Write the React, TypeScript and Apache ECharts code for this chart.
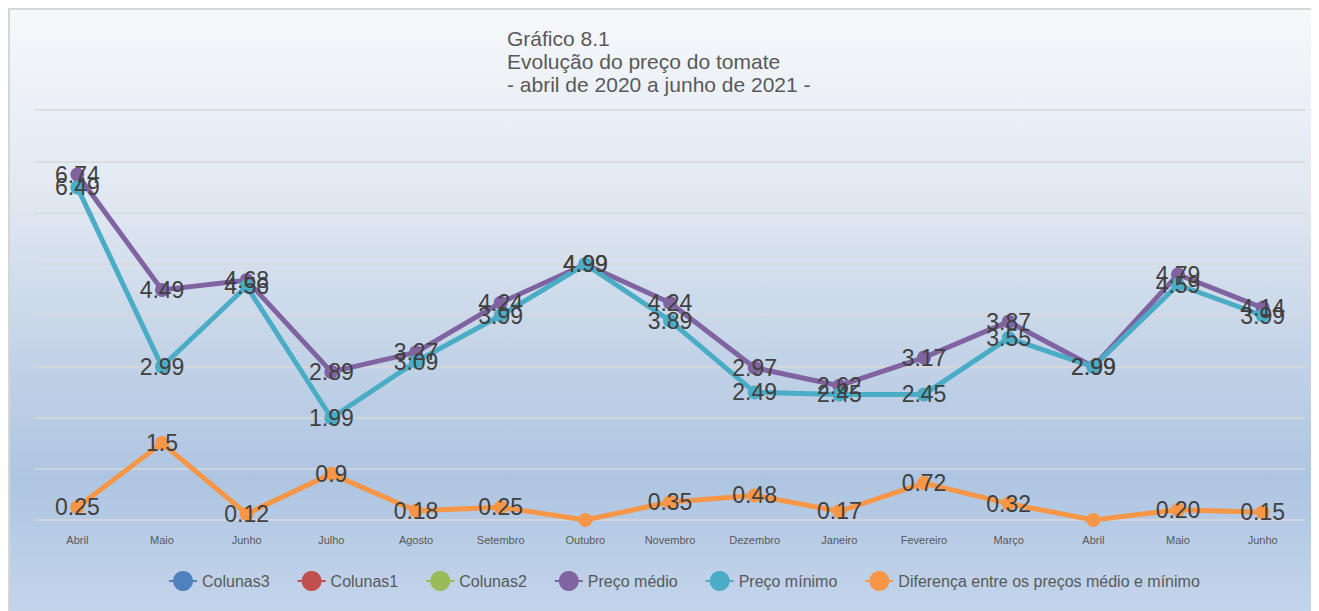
import React, { useEffect, useRef } from "react";
import * as echarts from "echarts";

const months = ["Abril", "Maio", "Junho", "Julho", "Agosto", "Setembro", "Outubro", "Novembro", "Dezembro", "Janeiro", "Fevereiro", "Março", "Abril", "Maio", "Junho"];
const precoMedio = [6.74, 4.49, 4.68, 2.89, 3.27, 4.24, 4.99, 4.24, 2.97, 2.62, 3.17, 3.87, 2.99, 4.79, 4.14];
const precoMinimo = [6.49, 2.99, 4.56, 1.99, 3.09, 3.99, 4.99, 3.89, 2.49, 2.45, 2.45, 3.55, 2.99, 4.59, 3.99];
const diferenca = [0.25, 1.5, 0.12, 0.9, 0.18, 0.25, 0, 0.35, 0.48, 0.17, 0.72, 0.32, 0, 0.2, 0.15];
const diferencaLabels = ["0.25", "1.5", "0.12", "0.9", "0.18", "0.25", "", "0.35", "0.48", "0.17", "0.72", "0.32", "", "0.20", "0.15"];
const yTicks = { min: 0, max: 8, interval: 1 };
const titleLines = ["Gráfico 8.1", "Evolução do preço do tomate", "- abril de 2020 a junho de 2021 -"];

const FONT = "'Liberation Sans', Arial, sans-serif";

export default function App() {
  const ref = useRef<HTMLDivElement>(null);
  useEffect(() => {
    document.documentElement.style.overflow = "hidden";
    if (!ref.current) return;
    const chart = echarts.init(ref.current, null, { renderer: "svg" });
    const labelStyle = {
      show: true,
      position: "inside" as const,
      fontSize: 23,
      color: "#404040",
      fontFamily: FONT,
    };
    const lineSeries = (name: string, color: string, data: any[], formatter?: any) => ({
      name,
      type: "line",
      data,
      symbol: "circle",
      symbolSize: 14,
      color,
      lineStyle: { width: 5, color },
      itemStyle: { color },
      label: { ...labelStyle, formatter: formatter || ((p: any) => Number(p.value).toFixed(2)) },
      z: 2,
    });
    chart.setOption({
      animation: false,
      backgroundColor: "transparent",
      title: {
        text: titleLines.join("\n"),
        left: 492,
        top: 12,
        textStyle: { fontSize: 21, fontWeight: "normal", color: "#595959", lineHeight: 23, fontFamily: FONT },
      },
      legend: {
        left: 153,
        top: 556,
        itemWidth: 28,
        itemHeight: 25,
        itemGap: 27,
        textStyle: { fontSize: 16, color: "#595959", fontFamily: FONT },
        data: ["Colunas3", "Colunas1", "Colunas2", "Preço médio", "Preço mínimo", "Diferença entre os preços médio e mínimo"],
      },
      grid: { left: 25, width: 1270, top: 100, bottom: 91, containLabel: false },
      xAxis: {
        type: "category",
        data: months,
        boundaryGap: true,
        axisLine: { show: false },
        axisTick: { show: false },
        axisLabel: { fontSize: 11, color: "#595959", margin: 14, fontFamily: FONT, interval: 0 },
      },
      yAxis: {
        type: "value",
        min: yTicks.min,
        max: yTicks.max,
        interval: yTicks.interval,
        axisLabel: { show: false },
        axisLine: { show: false },
        axisTick: { show: false },
        splitLine: { show: true, lineStyle: { color: "#d9d9d9", width: 1.5 } },
      },
      series: [
        lineSeries("Colunas3", "#4f81bd", []),
        lineSeries("Colunas1", "#c0504d", []),
        lineSeries("Colunas2", "#9bbb59", []),
        lineSeries("Preço médio", "#8064a2", precoMedio),
        lineSeries("Preço mínimo", "#4bacc6", precoMinimo),
        lineSeries("Diferença entre os preços médio e mínimo", "#f79646", diferenca, (p: any) => diferencaLabels[p.dataIndex]),
      ],
    });
    return () => chart.dispose();
  }, []);
  return (
    <div
      ref={ref}
      style={{
        width: 1311,
        height: 603,
        boxSizing: "border-box",
        borderLeft: "2px solid #d6d6d6",
        borderTop: "2px solid #d6d6d6",
        background: "linear-gradient(to bottom, #f6f8fb 0%, #e2e9f2 30%, #c6d5e8 55%, #aec5e1 78%, #c3d5eb 100%)",
      }}
    />
  );
}
